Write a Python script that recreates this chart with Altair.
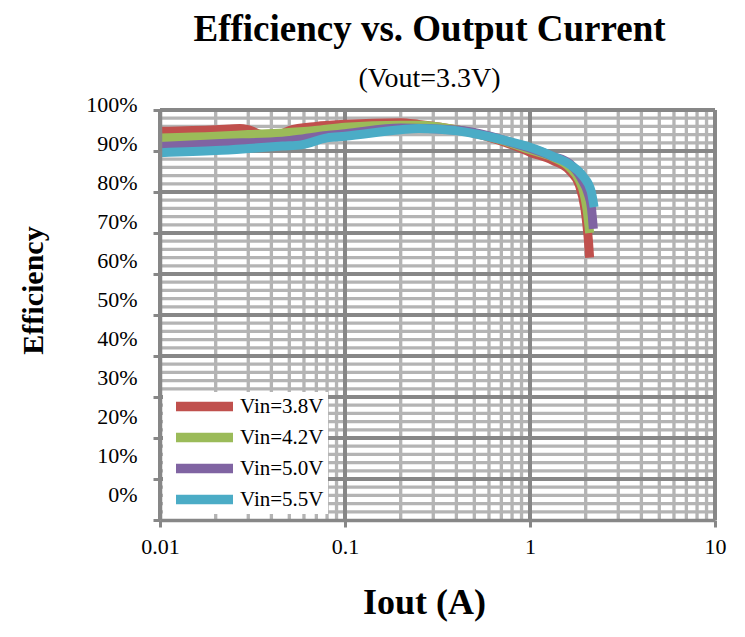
import altair as alt
import pandas as pd

SERIF = "Liberation Serif"
DARK = "#878787"
LIGHT = "#B4B4B4"

series = ["Vin=3.8V", "Vin=4.2V", "Vin=5.0V", "Vin=5.5V"]
colors = ["#C0504D", "#9BBB59", "#8064A2", "#4BACC6"]

iout_38 = [0.01, 0.02, 0.027, 0.03, 0.036, 0.045, 0.05, 0.07, 0.1, 0.2, 0.25, 0.4, 0.6, 0.8, 1.0, 1.33, 1.64, 1.85, 1.98, 2.03, 2.07, 2.1]
eff_38 = [0.948, 0.952, 0.955, 0.952, 0.940, 0.942, 0.950, 0.960, 0.965, 0.969, 0.965, 0.952, 0.934, 0.915, 0.897, 0.877, 0.852, 0.816, 0.76, 0.72, 0.68, 0.64]

iout_42 = [0.01, 0.02, 0.03, 0.046, 0.069, 0.1, 0.2, 0.25, 0.4, 0.6, 0.8, 1.0, 1.33, 1.64, 1.85, 1.95, 2.03, 2.08, 2.1]
eff_42 = [0.932, 0.936, 0.940, 0.944, 0.950, 0.958, 0.963, 0.963, 0.952, 0.935, 0.918, 0.903, 0.885, 0.860, 0.828, 0.80, 0.76, 0.72, 0.70]

iout_50 = [0.01, 0.02, 0.046, 0.055, 0.08, 0.1, 0.2, 0.4, 0.6, 0.8, 1.0, 1.33, 1.64, 1.9, 2.05, 2.15, 2.2]
eff_50 = [0.911, 0.918, 0.924, 0.928, 0.938, 0.942, 0.956, 0.951, 0.937, 0.920, 0.907, 0.887, 0.869, 0.832, 0.80, 0.76, 0.71]

iout_55 = [0.01, 0.02, 0.03, 0.046, 0.058, 0.08, 0.1, 0.2, 0.25, 0.39, 0.586, 0.884, 1.0, 1.33, 1.64, 1.93, 2.14, 2.22]
eff_55 = [0.896, 0.901, 0.906, 0.912, 0.915, 0.932, 0.936, 0.952, 0.955, 0.950, 0.936, 0.916, 0.909, 0.887, 0.867, 0.839, 0.802, 0.763]

x_major = [0.01, 0.1, 1, 10]
x_minor = [m * d for d in [0.01, 0.1, 1] for m in range(2, 10)]
y_major = [k / 100 for k in range(10, 101, 10)]
y_minor = [k / 100 for k in range(2, 100, 2) if k % 10]
y_label_values = list(range(0, 101, 10))

rows = []
for name, xs, ys in zip(series, [iout_38, iout_42, iout_50, iout_55], [eff_38, eff_42, eff_50, eff_55]):
    for xv, yv in zip(xs, ys):
        rows.append({"series": name, "iout": xv, "eff": yv, "pct": yv * 100})
df = pd.DataFrame(rows)

x_enc = alt.X(
    "iout:Q",
    scale=alt.Scale(type="log", domain=[0.01, 10], nice=False),
    axis=alt.Axis(
        values=x_major, format="~g", grid=False, labelFlush=False,
        domainColor=DARK, domainWidth=3.5, tickColor=DARK, tickWidth=3, tickSize=7,
        labelFont=SERIF, labelFontSize=22, labelColor="black", labelPadding=9,
        title="Iout (A)", titleFont=SERIF, titleFontSize=36, titleFontWeight="bold",
        titleColor="black", titleX=264, titleY=93, titleBaseline="alphabetic",
        titleAlign="center", zindex=1,
    ),
)
y_enc = alt.Y(
    "eff:Q",
    scale=alt.Scale(domain=[0, 1], nice=False, zero=False),
    axis=alt.Axis(
        values=[k / 100 for k in range(0, 101, 10)], labels=False, grid=False,
        domainColor=DARK, domainWidth=3.5, tickColor=DARK, tickWidth=3, tickSize=7,
        title="Efficiency", titleFont=SERIF, titleFontSize=30, titleFontWeight="bold",
        titleColor="black", titleAngle=270, titleX=-118, titleY=180,
        titleBaseline="alphabetic", titleAlign="center", zindex=1,
    ),
)

minor_x = alt.Chart(pd.DataFrame({"iout": x_minor})).mark_rule(color=LIGHT, strokeWidth=3.3).encode(x=x_enc)
minor_y = alt.Chart(pd.DataFrame({"eff": y_minor})).mark_rule(color=LIGHT, strokeWidth=3.3).encode(y=y_enc)
major_x = alt.Chart(pd.DataFrame({"iout": x_major})).mark_rule(color=DARK, strokeWidth=4).encode(x=x_enc)
major_y = alt.Chart(pd.DataFrame({"eff": y_major})).mark_rule(color=DARK, strokeWidth=4).encode(y=y_enc)

lines = alt.Chart(df).mark_line(strokeWidth=9, interpolate="monotone").encode(
    x=x_enc,
    y=y_enc,
    color=alt.Color(
        "series:N",
        scale=alt.Scale(domain=series, range=colors),
        legend=alt.Legend(
            title=None, orient="none", legendX=3, legendY=282,
            symbolType="stroke", symbolSize=3249, symbolStrokeWidth=9.5,
            clipHeight=21, rowPadding=9, padding=4, symbolOffset=4, labelOffset=2,
            labelFont=SERIF, labelFontSize=21, labelColor="black",
            fillColor="white",
        ),
    ),
)

inner = alt.layer(minor_x, minor_y, major_x, major_y, lines)

label_layer = alt.Chart(df).mark_point(opacity=0).encode(
    x=x_enc,
    y=alt.Y(
        "pct:Q",
        scale=alt.Scale(domain=[-5.128, 100], nice=False, zero=False),
        axis=alt.Axis(
            orient="left", values=y_label_values, labelExpr="datum.value + '%'",
            ticks=False, domain=False, grid=False, tickSize=0,
            labelPadding=23, labelOffset=-6, labelFont=SERIF, labelFontSize=22,
            labelColor="black", labelBaseline="middle", title=None,
        ),
    ),
)

chart = alt.layer(inner, label_layer).resolve_scale(y="independent").properties(
    width=555,
    height=410,
    autosize=alt.AutoSizeParams(type="none"),
    padding={"left": 152, "top": 102, "right": 14, "bottom": 105},
    background="white",
    title=alt.TitleParams(
        text="Efficiency vs. Output Current", subtitle="(Vout=3.3V)",
        font=SERIF, fontSize=37, fontWeight="bold", color="black",
        subtitleFont=SERIF, subtitleFontSize=28, subtitleColor="black",
        subtitlePadding=16, offset=19, anchor="middle", dx=-8, dy=20,
    ),
).configure_view(stroke="transparent")

chart.save("out.html", embed_options={"renderer": "svg", "actions": False})
